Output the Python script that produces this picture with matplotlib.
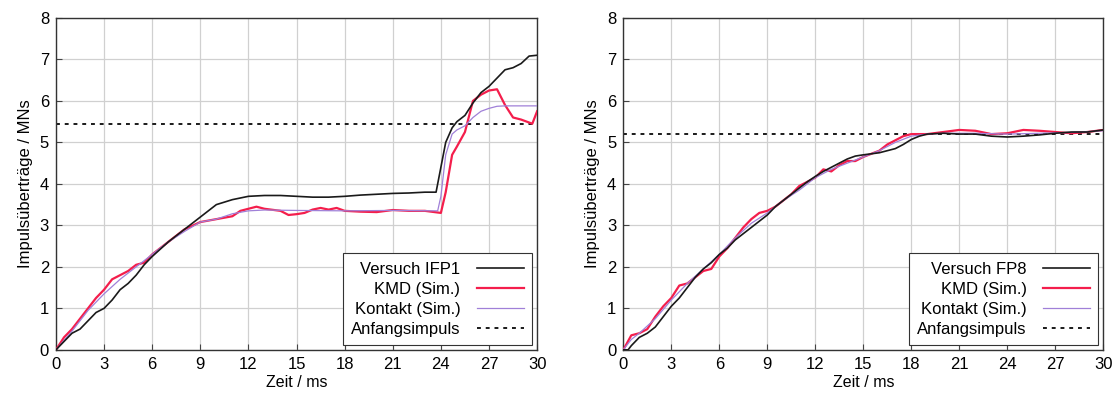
import matplotlib
matplotlib.use('Agg')
import matplotlib.pyplot as plt
import numpy as np

plt.rcParams['font.family'] = ['Liberation Sans', 'DejaVu Sans']

# left panel: Versuch IFP1
t_ifp1 = [0, 0.5, 1, 1.5, 2, 2.5, 3, 3.5, 4, 4.5, 5, 5.5, 6, 7, 8, 9, 10, 11, 12, 13, 14,
          15, 16, 17, 18, 19, 20, 21, 22, 23, 23.7, 24, 24.3, 24.7, 25, 25.5, 26, 26.5,
          27, 27.5, 28, 28.5, 29, 29.5, 30]
p_ifp1 = [0, 0.2, 0.4, 0.5, 0.7, 0.9, 1.0, 1.2, 1.45, 1.6, 1.8, 2.05, 2.25, 2.6, 2.9, 3.2,
          3.5, 3.62, 3.7, 3.72, 3.72, 3.7, 3.68, 3.68, 3.7, 3.73, 3.75, 3.77, 3.78, 3.8,
          3.8, 4.4, 5.0, 5.35, 5.5, 5.65, 5.95, 6.2, 6.35, 6.55, 6.75, 6.8, 6.9, 7.08, 7.1]

t_kmd_l = [0, 0.5, 1, 2, 2.5, 3, 3.5, 4, 4.5, 5, 5.5, 6, 7, 8, 9, 10, 11, 11.5, 12, 12.5,
           13, 14, 14.5, 15, 15.5, 16, 16.5, 17, 17.5, 18, 19, 20, 21, 22, 23, 24, 24.3,
           24.7, 25, 25.5, 26, 26.5, 27, 27.5, 28, 28.5, 29, 29.7, 30]
p_kmd_l = [0, 0.3, 0.5, 1.0, 1.25, 1.45, 1.7, 1.8, 1.9, 2.05, 2.1, 2.3, 2.6, 2.9, 3.08,
           3.15, 3.22, 3.35, 3.4, 3.45, 3.4, 3.35, 3.25, 3.27, 3.3, 3.38, 3.42, 3.38, 3.42,
           3.35, 3.33, 3.32, 3.37, 3.35, 3.35, 3.3, 3.8, 4.7, 4.9, 5.25, 6.0, 6.15, 6.25,
           6.28, 5.9, 5.6, 5.55, 5.45, 5.75]

t_kon_l = [0, 1, 2, 3, 4, 5, 6, 7, 8, 9, 10, 11, 12, 13, 15, 18, 21, 23.8, 24, 24.3, 24.7,
           25, 25.5, 26, 26.5, 27, 27.5, 28, 30]
p_kon_l = [0, 0.45, 0.95, 1.35, 1.7, 2.0, 2.3, 2.6, 2.85, 3.08, 3.15, 3.28, 3.35, 3.37,
           3.36, 3.35, 3.36, 3.35, 3.7, 4.7, 5.2, 5.3, 5.4, 5.6, 5.75, 5.82, 5.87, 5.88, 5.88]

anfang_l = 5.45

# right panel: Versuch FP8
t_fp8 = [0, 0.3, 0.5, 1, 1.5, 2, 2.5, 3, 3.5, 4, 4.5, 5, 5.5, 6, 6.5, 7, 7.5, 8, 8.5, 9,
         9.5, 10, 10.5, 11, 11.5, 12, 12.5, 13, 13.5, 14, 14.5, 15, 16, 17, 17.5, 18, 18.5,
         19, 20, 21, 22, 23, 24, 25, 26, 27, 28, 29, 30]
p_fp8 = [0, 0, 0.1, 0.3, 0.4, 0.55, 0.8, 1.05, 1.25, 1.5, 1.75, 1.95, 2.1, 2.3, 2.45, 2.65,
         2.8, 2.95, 3.1, 3.25, 3.45, 3.6, 3.75, 3.9, 4.05, 4.18, 4.3, 4.4, 4.5, 4.6, 4.67,
         4.7, 4.75, 4.85, 4.95, 5.07, 5.15, 5.2, 5.22, 5.2, 5.2, 5.15, 5.13, 5.15, 5.18,
         5.22, 5.25, 5.25, 5.3]

t_kmd_r = [0, 0.5, 1, 1.5, 2, 2.5, 3, 3.5, 4, 4.5, 5, 5.5, 6, 6.5, 7, 7.5, 8, 8.5, 9, 9.5,
           10, 10.5, 11, 11.5, 12, 12.5, 13, 13.5, 14, 14.5, 15, 16, 16.5, 17, 17.5, 18, 19,
           20, 21, 22, 23, 24, 25, 26, 27, 28, 29, 30]
p_kmd_r = [0, 0.35, 0.4, 0.5, 0.8, 1.05, 1.25, 1.55, 1.6, 1.75, 1.9, 1.95, 2.25, 2.45, 2.7,
           2.95, 3.15, 3.3, 3.35, 3.45, 3.6, 3.75, 3.95, 4.05, 4.15, 4.35, 4.3, 4.45, 4.55,
           4.55, 4.65, 4.8, 4.95, 5.05, 5.15, 5.2, 5.2, 5.25, 5.3, 5.28, 5.2, 5.22, 5.3,
           5.28, 5.25, 5.22, 5.25, 5.3]

t_kon_r = [0, 0.5, 1, 2, 3, 4, 5, 6, 7, 8, 9, 10, 11, 12, 13, 14, 15, 16, 17, 18, 19, 20,
           22, 24, 26, 28, 30]
p_kon_r = [0, 0.25, 0.4, 0.75, 1.2, 1.6, 1.95, 2.3, 2.7, 3.05, 3.3, 3.6, 3.85, 4.15, 4.35,
           4.5, 4.65, 4.8, 5.0, 5.15, 5.2, 5.22, 5.22, 5.2, 5.22, 5.24, 5.28]

anfang_r = 5.2

xticks = np.arange(0, 31, 3)
yticks = np.arange(0, 9, 1)

fig = plt.figure(figsize=(11.19, 3.98), dpi=100)
ax1 = fig.add_axes([0.050, 0.121, 0.430, 0.834])
ax2 = fig.add_axes([0.557, 0.121, 0.429, 0.834])

panels = [
    (ax1, 'Versuch IFP1', t_ifp1, p_ifp1, t_kmd_l, p_kmd_l, t_kon_l, p_kon_l, anfang_l),
    (ax2, 'Versuch FP8', t_fp8, p_fp8, t_kmd_r, p_kmd_r, t_kon_r, p_kon_r, anfang_r),
]

for ax, name, tv, pv, tk_, pk, tc, pc, anf in panels:
    ax.plot(tv, pv, color='#1a1a1a', lw=1.2, label=name, zorder=4)
    ax.plot(tk_, pk, color='#f41e4c', lw=1.6, label='KMD (Sim.)', zorder=3)
    ax.plot(tc, pc, color='#a080d8', lw=0.9, label='Kontakt (Sim.)', zorder=3)
    ax.axhline(anf, color='#1a1a1a', lw=1.4, ls=(0, (2, 2.5)), label='Anfangsimpuls', zorder=2)
    ax.set_xlim(0, 30)
    ax.set_ylim(0, 8)
    ax.set_xticks(xticks)
    ax.set_yticks(yticks)
    ax.grid(True, color='#d0d0d0', lw=0.9)
    ax.tick_params(direction='in', length=4, labelsize=12, color='#444444', pad=5)
    for s in ax.spines.values():
        s.set_color('#333333')
        s.set_linewidth(1.0)
    ax.set_xlabel('Zeit / ms', fontsize=11.5, labelpad=2)
    ax.set_ylabel('Impulsüberträge / MNs', fontsize=12, labelpad=5)
    leg = ax.legend(loc='lower right', markerfirst=False, fontsize=12, fancybox=False,
                    framealpha=1, edgecolor='#333333', borderaxespad=0.3,
                    handlelength=2.8, handletextpad=1.0, labelspacing=0.3, borderpad=0.5)
    leg.get_frame().set_linewidth(0.8)

fig.savefig('out.png', dpi=100)
